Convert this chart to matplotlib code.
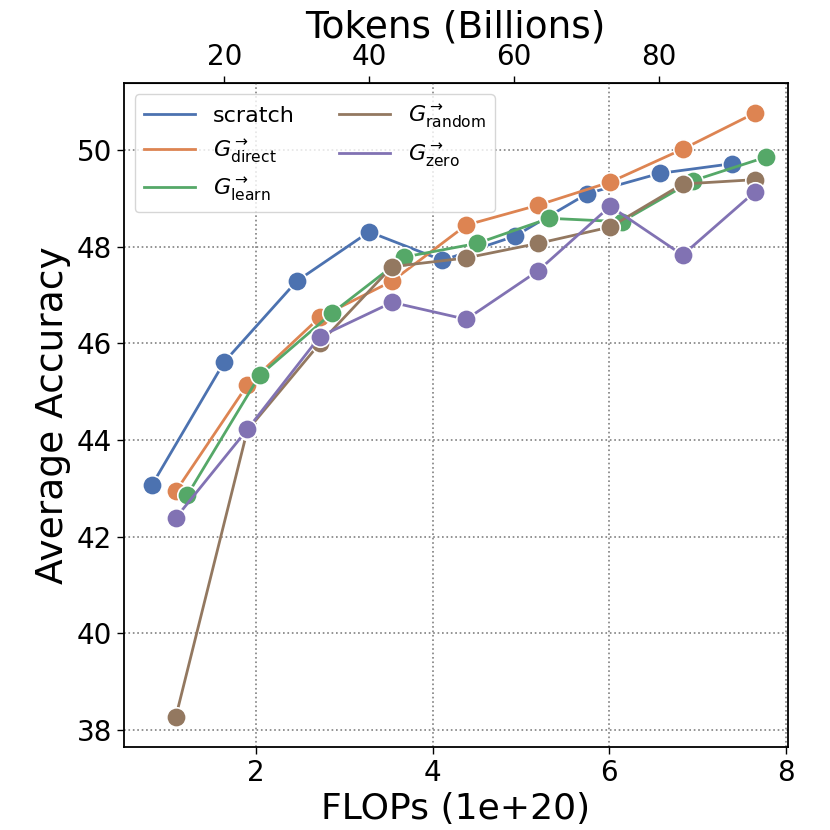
# Average accuracy vs. training FLOPs for scratch and growth operators
import matplotlib
matplotlib.use("Agg")
import matplotlib.pyplot as plt

# x positions (FLOPs, 1e+20) and accuracies
flops_scratch = [0.82, 1.64, 2.46, 3.28, 4.11, 4.93, 5.75, 6.57, 7.39]
flops_grow = [1.09, 1.90, 2.72, 3.54, 4.38, 5.19, 6.01, 6.83, 7.65]
flops_learn = [1.22, 2.04, 2.86, 3.68, 4.50, 5.32, 6.14, 6.95, 7.78]

acc_scratch = [43.07, 45.62, 47.29, 48.31, 47.72, 48.22, 49.10, 49.52, 49.72]
acc_direct = [42.94, 45.14, 46.54, 47.29, 48.45, 48.86, 49.34, 50.02, 50.77]
acc_learn = [42.86, 45.34, 46.63, 47.79, 48.07, 48.59, 48.52, 49.37, 49.86]
acc_random = [38.27, 44.20, 46.00, 47.59, 47.77, 48.07, 48.41, 49.30, 49.39]
acc_zero = [42.39, 44.22, 46.14, 46.85, 46.50, 47.50, 48.84, 47.83, 49.14]

tokens_per_flop = 12.2  # 10B tokens per 0.82e20 FLOPs (scratch)

series = [
    ("scratch", flops_scratch, acc_scratch, "#4C72B0"),
    (r"$G^{\rightarrow}_{\mathrm{direct}}$", flops_grow, acc_direct, "#DD8452"),
    (r"$G^{\rightarrow}_{\mathrm{learn}}$", flops_learn, acc_learn, "#55A868"),
    (r"$G^{\rightarrow}_{\mathrm{random}}$", flops_grow, acc_random, "#937860"),
    (r"$G^{\rightarrow}_{\mathrm{zero}}$", flops_grow, acc_zero, "#8172B3"),
]

fig = plt.figure(figsize=(8.3, 8.3), dpi=100)
ax = fig.add_axes([0.149, 0.100, 0.800, 0.800])

for label, x, y, color in series:
    ax.plot(x, y, color=color, lw=2, label=label)
    ax.plot(x, y, "o", color=color, markersize=14, markeredgecolor="white",
            markeredgewidth=1.2, linestyle="none")

ax.set_xlim(0.5, 8.02)
ax.set_ylim(37.65, 51.39)
ax.set_xticks([2, 4, 6, 8])
ax.set_yticks([38, 40, 42, 44, 46, 48, 50])
ax.grid(True, linestyle=":", color="gray", lw=1.2)
ax.tick_params(labelsize=20, length=5, width=1)
for s in ax.spines.values():
    s.set_linewidth(1.3)

ax.set_xlabel("FLOPs (1e+20)", fontsize=26)
ax.set_ylabel("Average Accuracy", fontsize=27)

top = ax.secondary_xaxis("top", functions=(lambda f: f * tokens_per_flop,
                                           lambda t: t / tokens_per_flop))
top.set_xticks([20, 40, 60, 80])
top.tick_params(labelsize=20, length=5, width=1)
top.set_xlabel("Tokens (Billions)", fontsize=27)

ax.legend(loc="upper left", ncol=2, fontsize=16, handlelength=2.3,
          handletextpad=0.8, columnspacing=2.0)

fig.savefig("out.png", dpi=100)
plt.close(fig)
